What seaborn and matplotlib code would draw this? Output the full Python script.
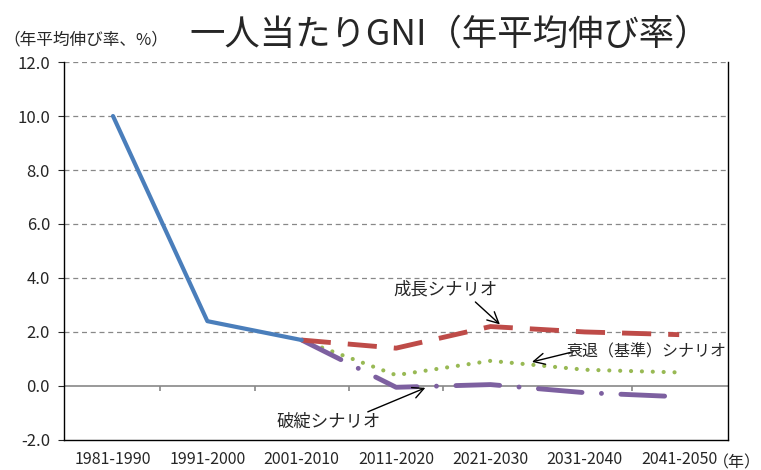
import numpy as np
import pandas as pd
import matplotlib
matplotlib.use("Agg")
import matplotlib.pyplot as plt
import seaborn as sns

periods = ["1981-1990", "1991-2000", "2001-2010", "2011-2020",
           "2021-2030", "2031-2040", "2041-2050"]
actual = [10.0, 2.4, 1.7]
growth = [1.7, 1.4, 2.2, 2.0, 1.9]
decline = [1.7, 0.4, 0.93, 0.6, 0.5]
collapse = [1.7, -0.05, 0.05, -0.25, -0.4]

sns.set_style("white")
plt.rcParams['font.family'] = ['Noto Sans CJK JP', 'DejaVu Sans']

fig = plt.figure(figsize=(7.61, 4.70), dpi=100)
ax = fig.add_axes([0.084, 0.064, 0.873, 0.804])

pos = np.arange(len(periods))
sns.lineplot(x=pos[:3], y=actual, ax=ax, color="#4A7EBB", lw=3)
sns.lineplot(x=pos[2:], y=growth, ax=ax, color="#BE4B48", lw=3.5)
sns.lineplot(x=pos[2:], y=decline, ax=ax, color="#98B954", lw=3)
sns.lineplot(x=pos[2:], y=collapse, ax=ax, color="#7D60A0", lw=3.5)

lines = ax.get_lines()
lines[1].set_dashes([6, 3.5])
lines[2].set_dashes([0.01, 2.6])
lines[2].set_dash_capstyle("round")
lines[3].set_dashes([9, 4, 0.01, 4])
lines[3].set_dash_capstyle("round")
lines[1].set_zorder(3)
lines[0].set_zorder(5)

ax.set_xlim(-0.52, 6.52)
ax.set_ylim(-2, 12)
ax.set_yticks(np.arange(-2, 12.1, 2))
ax.set_yticklabels([f"{v:.1f}" for v in np.arange(-2, 12.1, 2)], fontsize=12)
ax.set_xticks(pos)
ax.set_xticklabels(periods, fontsize=11.5)
ax.tick_params(axis="x", length=0, pad=8)
ax.tick_params(axis="y", length=4, direction="out", left=True, pad=6)

for v in range(2, 13, 2):
    ax.axhline(v, color="#888888", lw=0.9, ls=(0, (4, 3)), zorder=0)
ax.axhline(0, color="#888888", lw=1.2, zorder=1)
ax.vlines(pos[:-1] + 0.5, -0.18, 0, color="#888888", lw=1.2, zorder=1)

for s in ["left", "right", "bottom"]:
    ax.spines[s].set_color("black")
    ax.spines[s].set_linewidth(1.0)
ax.spines["top"].set_visible(False)

arrow = dict(arrowstyle="->", color="black", lw=1, mutation_scale=20,
             shrinkA=0, shrinkB=0)
ax.annotate("", xy=(4.10, 2.28), xytext=(3.84, 3.11), arrowprops=arrow)
ax.annotate("", xy=(4.44, 0.89), xytext=(4.87, 1.26), arrowprops=arrow)
ax.annotate("", xy=(3.31, -0.07), xytext=(2.70, -0.96), arrowprops=arrow)
ax.text(3.52, 3.56, "成長シナリオ", fontsize=12.5, ha="center", va="center")
ax.text(5.65, 1.26, "衰退（基準）シナリオ", fontsize=11.5, ha="center",
        va="center")
ax.text(2.28, -1.33, "破綻シナリオ", fontsize=12.5, ha="center", va="center")

fig.text(0.591, 0.927, "一人当たりGNI（年平均伸び率）", fontsize=25.5,
         ha="center", va="center")
fig.text(0.004, 0.915, "（年平均伸び率、%）", fontsize=12, ha="left",
         va="center")
fig.text(1.0, 0.016, "（年）", fontsize=11.5, ha="right", va="center")

fig.savefig("out.png", dpi=100)
